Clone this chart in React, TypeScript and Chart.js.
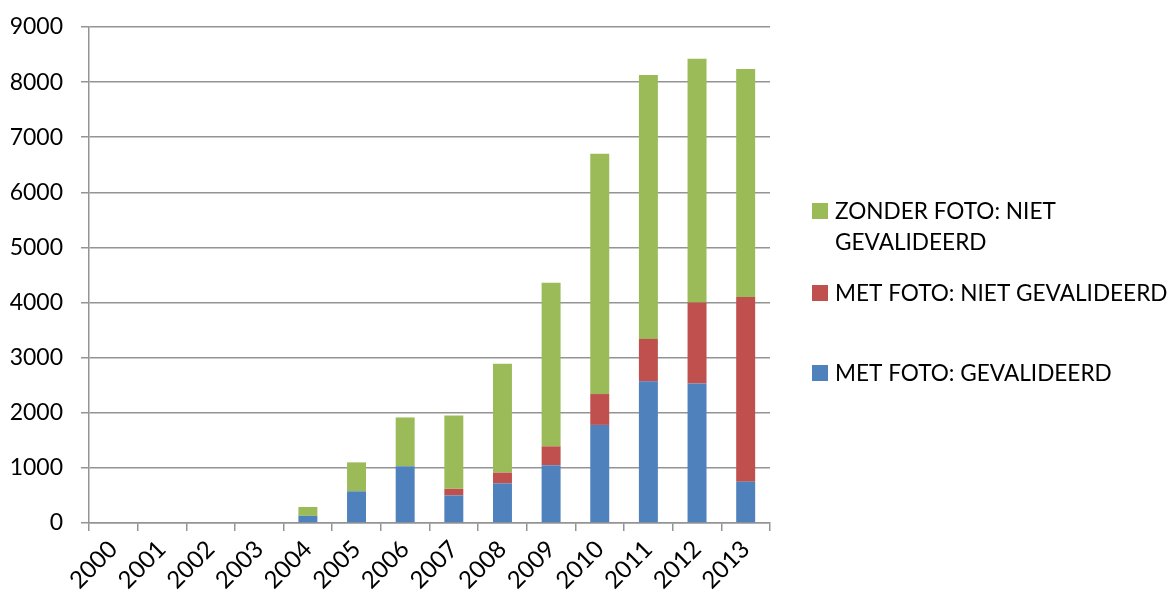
import React, { useEffect, useRef } from "react";
import { Chart, registerables } from "chart.js";

Chart.register(...registerables);

const years = ["2000", "2001", "2002", "2003", "2004", "2005", "2006", "2007", "2008", "2009", "2010", "2011", "2012", "2013"];
const metFotoGevalideerd = [0, 0, 0, 0, 130, 575, 1030, 500, 720, 1050, 1780, 2570, 2530, 750];
const metFotoNietGevalideerd = [0, 0, 0, 0, 0, 0, 0, 120, 195, 340, 560, 770, 1470, 3350];
const zonderFotoNietGevalideerd = [0, 0, 0, 0, 160, 525, 885, 1330, 1975, 2970, 4360, 4790, 4425, 4140];

const seriesLabels = ["MET FOTO: GEVALIDEERD", "MET FOTO: NIET GEVALIDEERD", "ZONDER FOTO: NIET GEVALIDEERD"];
const legendLines = [["MET FOTO: GEVALIDEERD"], ["MET FOTO: NIET GEVALIDEERD"], ["ZONDER FOTO: NIET", "GEVALIDEERD"]];
const seriesColors = ["#4F81BD", "#C0504D", "#9BBB59"];

const FONT = "Lato, 'Open Sans', sans-serif";
const GRID = "#949494";

const legendPlugin = {
  id: "sideLegend",
  afterDraw(chart: any) {
    const ctx = chart.ctx;
    const area = chart.chartArea;
    ctx.save();
    ctx.font = `22.6px ${FONT}`;
    ctx.textBaseline = "middle";
    ctx.textAlign = "left";
    ctx.fillStyle = "#000";
    const boxX = area.right + 42;
    const textX = boxX + 23;
    const centers = [373, 293, 211];
    const lineH = 31;
    for (let i = chart.data.datasets.length - 1; i >= 0; i--) {
      const ds = chart.data.datasets[i];
      const cy = centers[i];
      ctx.fillStyle = ds.backgroundColor;
      ctx.fillRect(boxX, cy - 8, 16, 16);
      ctx.fillStyle = "#000";
      legendLines[i].forEach((t, k) => {
        ctx.fillText(t, textX, cy + k * lineH + 1);
      });
    }
    ctx.restore();
  },
};

export default function App() {
  const ref = useRef<HTMLCanvasElement>(null);
  useEffect(() => {
    if (!ref.current) return;
    const chart = new Chart(ref.current, {
      type: "bar",
      data: {
        labels: years,
        datasets: [metFotoGevalideerd, metFotoNietGevalideerd, zonderFotoNietGevalideerd].map((d, i) => ({
          label: seriesLabels[i],
          data: d,
          backgroundColor: seriesColors[i],
          borderWidth: 0,
          categoryPercentage: 1,
          barPercentage: 0.39,
        })),
      },
      options: {
        responsive: false,
        animation: false,
        layout: { padding: { top: 27, right: 403, left: 0, bottom: 0 } },
        plugins: { legend: { display: false }, tooltip: { enabled: false } },
        scales: {
          x: {
            stacked: true,
            grid: { display: true, drawOnChartArea: false, drawTicks: true, tickLength: 8, color: GRID, lineWidth: 1.5, offset: true },
            border: { color: GRID, width: 1.5 },
            ticks: { color: "#000", font: { family: FONT, size: 24 }, minRotation: 45, maxRotation: 45, padding: 4 },
            afterFit: (s: any) => { s.height = 72; s.paddingLeft = 0; s.paddingRight = 0; },
          },
          y: {
            stacked: true,
            min: 0,
            max: 9000,
            grid: { color: GRID, lineWidth: 1.5, tickLength: 8 },
            border: { color: GRID, width: 1.5 },
            ticks: { stepSize: 1000, color: "#000", font: { family: FONT, size: 23 }, padding: 18, callback: (v: any) => String(v) },
            afterFit: (s: any) => { s.width = 89; s.paddingTop = 0; s.paddingBottom = 0; },
          },
        },
      },
      plugins: [legendPlugin],
    });
    return () => chart.destroy();
  }, []);
  return (
    <div style={{ position: "absolute", left: 0, top: 0, width: 1173, height: 595, background: "#fff" }}>
      <canvas ref={ref} width={1173} height={595} />
    </div>
  );
}
